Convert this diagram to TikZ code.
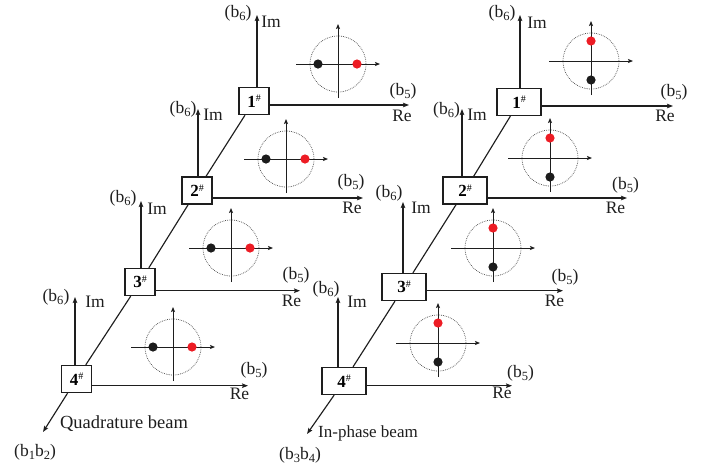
\documentclass[tikz,border=0pt]{standalone}
\usepackage{fontspec}
\setmainfont{Liberation Serif}
\usetikzlibrary{arrows.meta}
\definecolor{dotred}{RGB}{237,28,36}
\definecolor{dotblack}{RGB}{28,28,28}
\definecolor{linecol}{RGB}{30,30,30}
\newcommand{\lowsub}[1]{\raisebox{-3.6pt}{\fontsize{12.5}{12.5}\selectfont #1}}
\newcommand{\boxlab}[1]{\textbf{#1}\raisebox{5.5pt}{\fontsize{10}{10}\selectfont\#}}
\begin{document}
\begin{tikzpicture}[x=1pt,y=-1pt,
  box/.style={draw=linecol, line width=1.3pt, fill=white, minimum height=27pt, inner sep=0pt,
    font=\fontsize{17}{17}\selectfont},
  qbox/.style={box, minimum width=30pt},
  ibox/.style={box, minimum width=44pt},
  tip/.style={-{Stealth[length=6pt,width=4.5pt,inset=1pt]}},
  ax/.style={draw=linecol, line width=1.15pt, tip},
  beam/.style={draw=linecol, line width=1.15pt},
  lbl/.style={inner sep=0pt, font=\fontsize{17.5}{17.5}\selectfont, text=linecol},
  cdax/.style={draw=linecol, line width=0.9pt, -{Stealth[length=5pt,width=4pt,inset=1pt]}},
  cdcirc/.style={draw=black!75, line width=0.7pt, dash pattern=on 0.7pt off 1.1pt},
  cdh/.pic={
    \draw[cdcirc] (0,0) circle[radius=28];
    \draw[cdax] (-42,0) -- (42,0);
    \draw[cdax] (0,34) -- (0,-40);
    \fill[dotblack] (-20,0) circle[radius=4.6];
    \fill[dotred] (19,0) circle[radius=4.6];
  },
  cdv/.pic={
    \draw[cdcirc] (0,0) circle[radius=28];
    \draw[cdax] (-42,0) -- (42,0);
    \draw[cdax] (0,34) -- (0,-40);
    \fill[dotred] (0,-20) circle[radius=4.6];
    \fill[dotblack] (0,19) circle[radius=4.6];
  }]
\useasboundingbox (0,0) rectangle (715,467);

% ---------- Quadrature beam (left) ----------
\node[qbox] (q1) at (254,101) {\boxlab{1}};
\node[qbox] (q2) at (197,190.5) {\boxlab{2}};
\node[qbox] (q3) at (140,282) {\boxlab{3}};
\node[qbox] (q4) at (76.5,379) {\boxlab{4}};

\coordinate (q1im) at (257,15);   \coordinate (q1re) at (409,105);
\coordinate (q2im) at (198,109);  \coordinate (q2re) at (363,198);
\coordinate (q3im) at (141,201);  \coordinate (q3re) at (300,290.7);
\coordinate (q4im) at (75,297);   \coordinate (q4re) at (248,385.7);
\coordinate (qend) at (43,432);

\draw[beam] (q1) -- (q2);
\draw[beam] (q2) -- (q3);
\draw[beam] (q3) -- (q4);
\draw[ax] (q4) -- (qend);

\foreach \n in {q1,q2,q3,q4}{
  \draw[ax] (\n im |- \n.north) -- (\n im);
  \draw[ax] (\n.east |- \n re) -- (\n re);
}

\node[lbl] (q1b6) at (238,13) {(b\lowsub{6})};
\node[lbl] (q1Im) at (271,22) {Im};
\node[lbl] (q1b5) at (403,91) {(b\lowsub{5})};
\node[lbl] (q1Re) at (402,116) {Re};
\node[lbl] (q2b6) at (183,109) {(b\lowsub{6})};
\node[lbl] (q2Im) at (213,115) {Im};
\node[lbl] (q2b5) at (351,182) {(b\lowsub{5})};
\node[lbl] (q2Re) at (352,208) {Re};
\node[lbl] (q3b6) at (123,198) {(b\lowsub{6})};
\node[lbl] (q3Im) at (157,209) {Im};
\node[lbl] (q3b5) at (296,275) {(b\lowsub{5})};
\node[lbl] (q3Re) at (291.5,301) {Re};
\node[lbl] (q4b6) at (56,297) {(b\lowsub{6})};
\node[lbl] (q4Im) at (95,302) {Im};
\node[lbl] (q4b5) at (254,370) {(b\lowsub{5})};
\node[lbl] (q4Re) at (239.5,394) {Re};

\node[lbl, font=\fontsize{18.5}{18.5}\selectfont] (qname) at (124,424) {Quadrature beam};
\node[lbl] (qb12) at (35,452) {(b\lowsub{1}b\lowsub{2})};

\pic at (338,64) {cdh};
\pic at (286,159) {cdh};
\pic at (231,248) {cdh};
\pic at (173,347) {cdh};

% ---------- In-phase beam (right) ----------
\node[ibox] (r1) at (519,102) {\boxlab{1}};
\node[ibox] (r2) at (465,190.5) {\boxlab{2}};
\node[ibox] (r3) at (404,287) {\boxlab{3}};
\node[ibox] (r4) at (344,381) {\boxlab{4}};

\coordinate (r1im) at (520,15);   \coordinate (r1re) at (673,106);
\coordinate (r2im) at (462,109);  \coordinate (r2re) at (627,198);
\coordinate (r3im) at (403,202);  \coordinate (r3re) at (563,290.7);
\coordinate (r4im) at (338,297);  \coordinate (r4re) at (512,385.7);
\coordinate (rend) at (307,434);

\draw[beam] (r1) -- (r2);
\draw[beam] (r2) -- (r3);
\draw[beam] (r3) -- (r4);
\draw[ax] (r4) -- (rend);

\foreach \n in {r1,r2,r3,r4}{
  \draw[ax] (\n im |- \n.north) -- (\n im);
  \draw[ax] (\n.east |- \n re) -- (\n re);
}

\node[lbl] (r1b6) at (502,13) {(b\lowsub{6})};
\node[lbl] (r1Im) at (537,23) {Im};
\node[lbl] (r1b5) at (674,92) {(b\lowsub{5})};
\node[lbl] (r1Re) at (665,116) {Re};
\node[lbl] (r2b6) at (446.5,110) {(b\lowsub{6})};
\node[lbl] (r2Im) at (477,115) {Im};
\node[lbl] (r2b5) at (625.5,185) {(b\lowsub{5})};
\node[lbl] (r2Re) at (615.5,208) {Re};
\node[lbl] (r3b6) at (389,193) {(b\lowsub{6})};
\node[lbl] (r3Im) at (421,208) {Im};
\node[lbl] (r3b5) at (565,277) {(b\lowsub{5})};
\node[lbl] (r3Re) at (554.5,301) {Re};
\node[lbl] (r4b6) at (326,289) {(b\lowsub{6})};
\node[lbl] (r4Im) at (357,302) {Im};
\node[lbl] (r4b5) at (520.5,373) {(b\lowsub{5})};
\node[lbl] (r4Re) at (502,393) {Re};

\node[lbl, font=\fontsize{17}{17}\selectfont] (iname) at (368,433) {In-phase beam};
\node[lbl] (ib34) at (300,455) {(b\lowsub{3}b\lowsub{4})};

\pic at (591,61) {cdv};
\pic at (550,158) {cdv};
\pic at (493,248) {cdv};
\pic at (438,343) {cdv};
\end{tikzpicture}
\end{document}
